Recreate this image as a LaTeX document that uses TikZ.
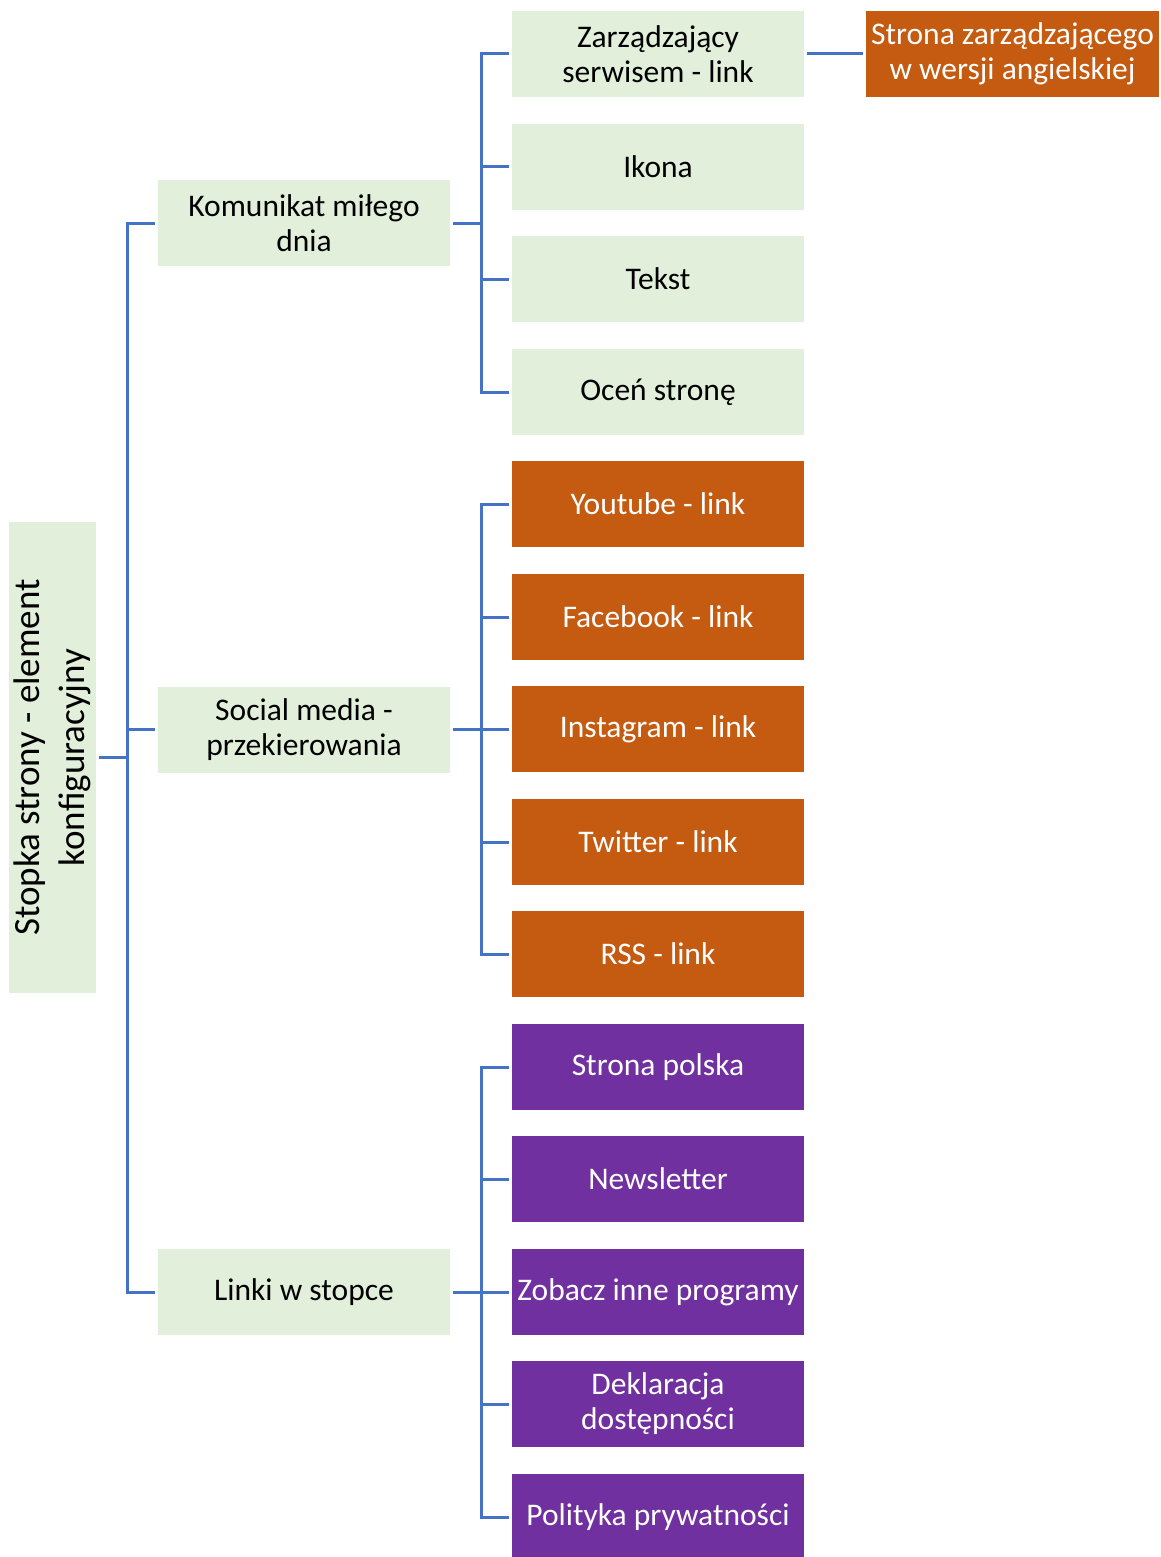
\documentclass[tikz,border=0pt]{standalone}
\usepackage{fontspec}
\setmainfont{Carlito}
\definecolor{lgreen}{HTML}{E2EFDA}
\definecolor{orng}{HTML}{C55A11}
\definecolor{purp}{HTML}{7030A0}
\definecolor{lineblue}{HTML}{4472C4}
\tikzset{
  box/.style={minimum width=292pt, minimum height=86pt, inner sep=0pt, align=center,
    font=\fontsize{31.5}{35}\selectfont},
  gbox/.style={box, fill=lgreen, text=black},
  obox/.style={box, fill=orng, text=white},
  pbox/.style={box, fill=purp, text=white},
  conn/.style={draw=lineblue, line width=3pt}
}
\begin{document}
\begin{tikzpicture}[x=1pt,y=-1pt]
\useasboundingbox (0,0) rectangle (1161,1557);
\fill[white] (0,0) rectangle (1161,1557);
% root
\node[fill=lgreen, minimum width=87pt, minimum height=471pt, inner sep=0pt] (root) at (52.5,757.5) {};
\node[rotate=90, align=center, font=\fontsize{37}{45}\selectfont] (roottext) at (52.5,757.5) {Stopka strony - element\\konfiguracyjny};
% level 1
\node[gbox] (k1) at (304,223) {Komunikat miłego\\dnia};
\node[gbox] (s1) at (304,729.5) {Social media -\\przekierowania};
\node[gbox] (l1) at (304,1292) {Linki w stopce};
% level 2
\node[gbox] (a1) at (658,54) {Zarządzający\\serwisem - link};
\node[gbox] (a2) at (658,167) {Ikona};
\node[gbox] (a3) at (658,279) {Tekst};
\node[gbox] (a4) at (658,392) {Oceń stronę};
\node[obox] (b1) at (658,504) {Youtube - link};
\node[obox] (b2) at (658,617) {Facebook - link};
\node[obox] (b3) at (658,729) {Instagram - link};
\node[obox] (b4) at (658,842) {Twitter - link};
\node[obox] (b5) at (658,954) {RSS - link};
\node[pbox] (c1) at (658,1067) {Strona polska};
\node[pbox] (c2) at (658,1179) {Newsletter};
\node[pbox] (c3) at (658,1292) {Zobacz inne programy};
\node[pbox] (c4) at (658,1404) {Deklaracja\\dostępności};
\node[pbox] (c5) at (658,1517) {Polityka prywatności};
% level 3
\node[obox, minimum width=293pt] (e1) at (1012.5,54) {Strona zarządzającego\\w wersji angielskiej};
% connectors
\coordinate (j0) at (127,757);
\draw[conn] ([xshift=3pt]root.east |- j0) -- (j0);
\foreach \n in {k1,s1,l1} \draw[conn] (j0) |- ([xshift=-3pt]\n.west);
\coordinate (jk) at (481,223);
\draw[conn] ([xshift=3pt]k1.east) -- (jk);
\foreach \n in {a1,a2,a3,a4} \draw[conn] (jk) |- ([xshift=-3pt]\n.west);
\coordinate (js) at (481,729.5);
\draw[conn] ([xshift=3pt]s1.east) -- (js);
\foreach \n in {b1,b2,b3,b4,b5} \draw[conn] (js) |- ([xshift=-3pt]\n.west);
\coordinate (jl) at (481,1292);
\draw[conn] ([xshift=3pt]l1.east) -- (jl);
\foreach \n in {c1,c2,c3,c4,c5} \draw[conn] (jl) |- ([xshift=-3pt]\n.west);
\draw[conn] ([xshift=3pt]a1.east) -- ([xshift=-3pt]e1.west);
\end{tikzpicture}
\end{document}
